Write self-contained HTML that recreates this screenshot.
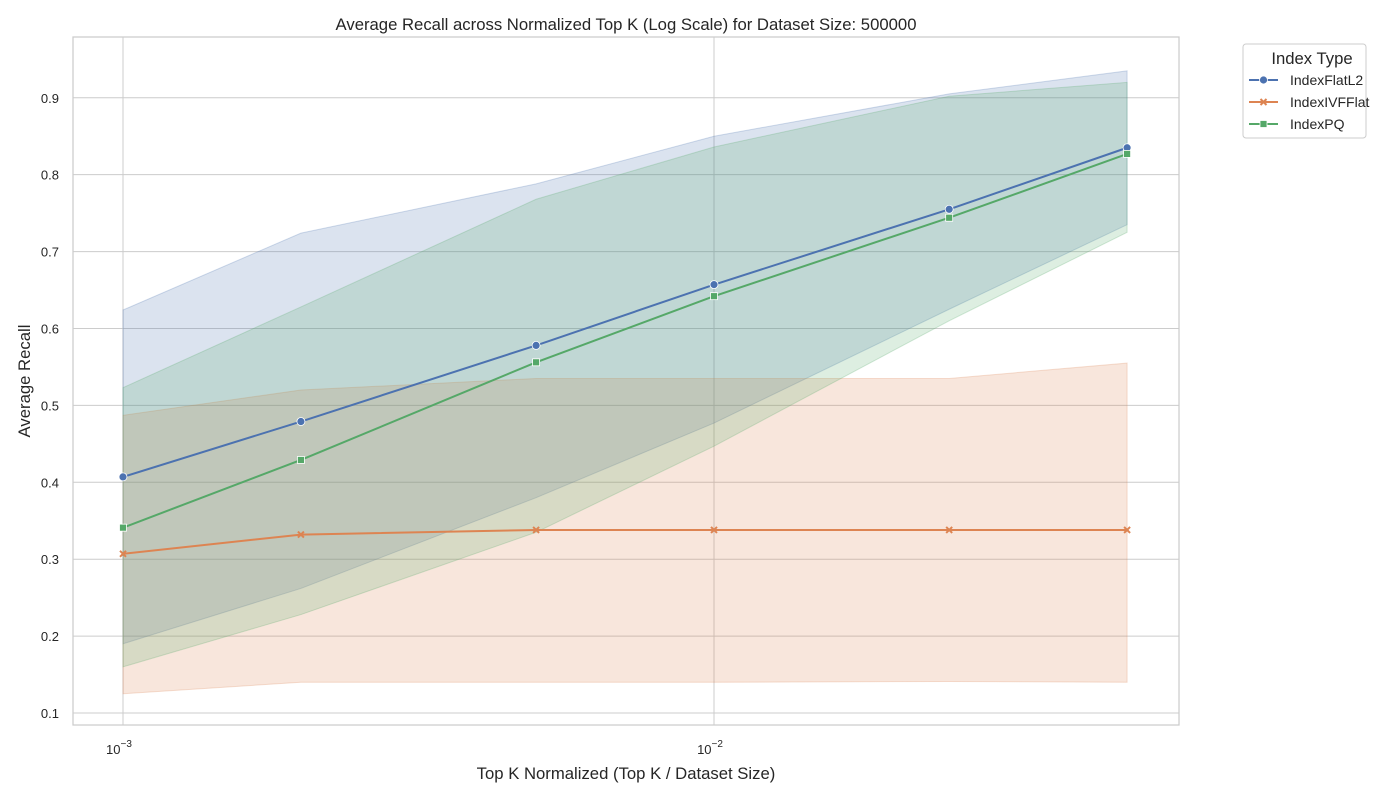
<!DOCTYPE html>
<html><head><meta charset="utf-8"><style>
body{margin:0;background:#fff;font-family:"Liberation Sans",sans-serif;}
svg text{font-family:"Liberation Sans",sans-serif;fill:#262626;}
</style></head><body>
<svg id="chart" width="1400" height="800" xmlns="http://www.w3.org/2000/svg">
<text x="626" y="30" font-size="16.7" text-anchor="middle">Average Recall across Normalized Top K (Log Scale) for Dataset Size: 500000</text>
<g id="grid"></g><g id="bands"></g><g id="lines"></g><g id="axes"></g>
<text x="626" y="779" font-size="16.7" text-anchor="middle">Top K Normalized (Top K / Dataset Size)</text>
<text transform="translate(30,381) rotate(-90)" font-size="16.7" text-anchor="middle">Average Recall</text>
<g>
<rect x="1243" y="44" width="123" height="94" fill="#fff" stroke="#ccc" rx="3"/>
<text x="1312" y="64" font-size="16.7" text-anchor="middle">Index Type</text>
<g id="legend-items"></g>
</g>
</svg>
<script>
const xs=[0.001,0.002,0.005,0.01,0.025,0.05];
const seriesNames=["IndexFlatL2","IndexIVFFlat","IndexPQ"];
const flatMean=[0.407,0.479,0.578,0.657,0.755,0.835];
const flatHi=[0.624,0.724,0.788,0.850,0.905,0.935];
const flatLo=[0.190,0.262,0.380,0.477,0.625,0.735];
const ivfMean=[0.307,0.332,0.338,0.338,0.338,0.338];
const ivfHi=[0.487,0.520,0.535,0.535,0.535,0.555];
const ivfLo=[0.125,0.140,0.140,0.140,0.141,0.140];
const pqMean=[0.341,0.429,0.556,0.642,0.744,0.827];
const pqHi=[0.523,0.628,0.768,0.836,0.902,0.920];
const pqLo=[0.160,0.228,0.335,0.447,0.610,0.725];
const yTicks=[0.1,0.2,0.3,0.4,0.5,0.6,0.7,0.8,0.9];
const xTicks=[-3,-2];
const L=73,R=1179,T=37,B=725;
const xMin=-3.0846,xMax=-1.2132,yMin=0.0844,yMax=0.979;
const X=v=>L+(Math.log10(v)-xMin)/(xMax-xMin)*(R-L);
const Y=v=>B-(v-yMin)/(yMax-yMin)*(B-T);
const NS="http://www.w3.org/2000/svg";
function mk(tag,attrs,parent){const e=document.createElementNS(NS,tag);for(const k in attrs)e.setAttribute(k,attrs[k]);document.getElementById(parent).appendChild(e);return e;}
yTicks.forEach(t=>{
 const l=mk('line',{x1:L,x2:R,y1:Y(t),y2:Y(t),stroke:'#cccccc','stroke-width':1},'grid');
 
 
 const tx=mk('text',{x:L-14,y:Y(t)+5,'font-size':13,'text-anchor':'end'},'axes');
 tx.textContent=t.toFixed(1);
 
 
});
xTicks.forEach(t=>{
 const x=X(Math.pow(10,t));
 const l=mk('line',{x1:x,x2:x,y1:T,y2:B,stroke:'#cccccc','stroke-width':1},'grid');
 
 
 const tx=mk('text',{x:x-4,y:B+29,'font-size':13,'text-anchor':'middle'},'axes');
 tx.innerHTML='10<tspan dy="-7" font-size="10">−'+Math.abs(t)+'</tspan>';
 
 
});
const fr=mk('rect',{x:L,y:T,width:R-L,height:B-T,fill:'none',stroke:'#cccccc','stroke-width':1.25},'axes');


const series=[
 {name:seriesNames[0],m:flatMean,hi:flatHi,lo:flatLo,c:'#4c72b0',mk:'circle'},
 {name:seriesNames[1],m:ivfMean,hi:ivfHi,lo:ivfLo,c:'#dd8452',mk:'x'},
 {name:seriesNames[2],m:pqMean,hi:pqHi,lo:pqLo,c:'#55a868',mk:'square'}];
function marker(s,x,y,parent){
 let e;
 if(s.mk==='circle')e=mk('circle',{cx:x,cy:y,r:4,fill:s.c,stroke:'#fff','stroke-width':0.8},parent);
 else if(s.mk==='square')e=mk('rect',{x:x-3.5,y:y-3.5,width:7,height:7,fill:s.c,stroke:'#fff','stroke-width':0.8},parent);
 else e=mk('path',{d:`M${x-3},${y-3}L${x+3},${y+3}M${x-3},${y+3}L${x+3},${y-3}`,stroke:s.c,'stroke-width':2},parent);
 return e;
}
series.forEach((s,si)=>{
 let d='M'+xs.map((v,i)=>X(v)+','+Y(s.hi[i])).join('L');
 d+='L'+xs.slice().reverse().map((v,j)=>{const i=xs.length-1-j;return X(v)+','+Y(s.lo[i]);}).join('L')+'Z';
 const b=mk('path',{d:d,fill:s.c,'fill-opacity':0.2,stroke:s.c,'stroke-opacity':0.25},'bands');
 
 
 const p=mk('polyline',{points:xs.map((v,i)=>X(v)+','+Y(s.m[i])).join(' '),fill:'none',stroke:s.c,'stroke-width':2},'lines');
 
 
 xs.forEach((v,i)=>{
  const e=marker(s,X(v),Y(s.m[i]),'lines');
  
  
 });
 const ly=80+si*22;
 const ll=mk('line',{x1:1249,x2:1278,y1:ly,y2:ly,stroke:s.c,'stroke-width':2},'legend-items');
 
 
 marker(s,1263.5,ly,'legend-items');
 const lt=mk('text',{x:1290,y:ly+5,'font-size':14},'legend-items');
 lt.textContent=s.name;
 
 
});
</script>
</body></html>
